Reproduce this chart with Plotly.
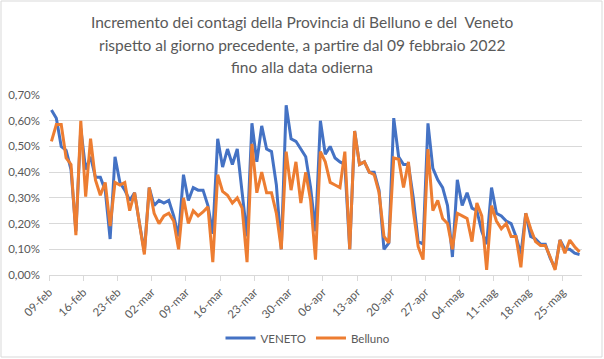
import plotly.graph_objects as go
import pandas as pd

start_date = "2022-02-09"

veneto = [0.642, 0.61, 0.50, 0.485, 0.41, 0.17, 0.57, 0.41, 0.46, 0.38,
          0.38, 0.33, 0.14, 0.46, 0.36, 0.33, 0.29, 0.32, 0.20, 0.09,
          0.34, 0.27, 0.29, 0.28, 0.29, 0.23, 0.15, 0.39, 0.29, 0.34,
          0.33, 0.33, 0.27, 0.16, 0.53, 0.42, 0.49, 0.43, 0.49, 0.33,
          0.15, 0.59, 0.44, 0.58, 0.49, 0.48, 0.35, 0.10, 0.66, 0.53,
          0.52, 0.49, 0.46, 0.34, 0.17, 0.60, 0.47, 0.50, 0.455, 0.44,
          0.43, 0.10, 0.56, 0.43, 0.44, 0.40, 0.40, 0.33, 0.10, 0.125,
          0.61, 0.46, 0.43, 0.43, 0.30, 0.13, 0.12, 0.59, 0.415, 0.37,
          0.34, 0.27, 0.07, 0.37, 0.27, 0.32, 0.26, 0.25, 0.17, 0.12,
          0.34, 0.24, 0.23, 0.21, 0.20, 0.15, 0.08, 0.24, 0.15, 0.14,
          0.12, 0.12, 0.065, 0.026, 0.136, 0.10, 0.10, 0.085, 0.08]

belluno = [0.52, 0.585, 0.585, 0.455, 0.43, 0.155, 0.60, 0.305, 0.53, 0.37,
           0.31, 0.36, 0.19, 0.36, 0.35, 0.36, 0.25, 0.32, 0.20, 0.08,
           0.34, 0.24, 0.20, 0.23, 0.24, 0.21, 0.10, 0.30, 0.20, 0.25,
           0.23, 0.245, 0.265, 0.05, 0.39, 0.325, 0.31, 0.28, 0.30, 0.26,
           0.05, 0.51, 0.32, 0.40, 0.32, 0.32, 0.24, 0.10, 0.48, 0.33,
           0.44, 0.28, 0.40, 0.29, 0.06, 0.48, 0.44, 0.36, 0.35, 0.34,
           0.48, 0.10, 0.56, 0.43, 0.44, 0.40, 0.39, 0.32, 0.15, 0.125,
           0.455, 0.45, 0.34, 0.44, 0.25, 0.11, 0.06, 0.49, 0.25, 0.29,
           0.22, 0.20, 0.10, 0.24, 0.23, 0.22, 0.13, 0.28, 0.23, 0.02,
           0.27, 0.21, 0.18, 0.20, 0.15, 0.15, 0.03, 0.24, 0.18, 0.13,
           0.115, 0.115, 0.07, 0.02, 0.136, 0.085, 0.136, 0.11, 0.09]

tick_labels = ["09-feb", "16-feb", "23-feb", "02-mar", "09-mar", "16-mar",
               "23-mar", "30-mar", "06-apr", "13-apr", "20-apr", "27-apr",
               "04-mag", "11-mag", "18-mag", "25-mag"]

y_ticks = [0.0, 0.1, 0.2, 0.3, 0.4, 0.5, 0.6, 0.7]
y_tick_labels = [f"{v:.2f}%".replace(".", ",") for v in y_ticks]

title_lines = ["Incremento dei contagi della Provincia di Belluno e del&nbsp; Veneto",
               "rispetto al giorno precedente, a partire dal 09 febbraio 2022",
               "fino alla data odierna"]

dates = pd.date_range(start_date, periods=len(veneto), freq="D")
half = pd.Timedelta(hours=12)
tickvals = [dates[0] - half + pd.Timedelta(days=7 * i) for i in range(len(tick_labels))]

GRAY = "#595959"
GRID = "#D9D9D9"
FONT = "Lato"

fig = go.Figure()
fig.add_trace(go.Scatter(x=dates, y=veneto, mode="lines", name="VENETO",
                         line=dict(color="#4472C4", width=3)))
fig.add_trace(go.Scatter(x=dates, y=belluno, mode="lines", name="Belluno",
                         line=dict(color="#ED7D31", width=3)))

W, H = 604, 359
L, R, T, B = 49, 22, 95, 84
pw, ph = W - L - R, H - T - B

def px(x):
    return (x - L) / pw

def py(y):
    return (H - B - y) / ph

annotations = []
for i, line in enumerate(title_lines):
    annotations.append(dict(text=line, x=px(302), y=py(22 + 22.5 * i),
                            xref="paper", yref="paper", showarrow=False,
                            xanchor="center", yanchor="middle",
                            font=dict(family=FONT, size=15.5, color=GRAY)))

fig.update_layout(
    width=W, height=H,
    margin=dict(l=L, r=R, t=T, b=B, autoexpand=False),
    paper_bgcolor="white", plot_bgcolor="white",
    font=dict(family=FONT, size=11.5, color=GRAY),
    showlegend=True,
    legend=dict(orientation="h", x=px(308), xanchor="center", y=py(338), yanchor="middle",
                font=dict(family=FONT, size=11.5, color=GRAY), itemwidth=30,
                bgcolor="rgba(0,0,0,0)"),
    annotations=annotations,
    shapes=[dict(type="rect", xref="paper", yref="paper",
                 x0=px(1), x1=px(602), y0=py(357), y1=py(1),
                 line=dict(color=GRID, width=1), fillcolor="rgba(0,0,0,0)",
                 layer="below")],
)

fig.update_xaxes(
    type="date",
    range=[dates[0] - half, dates[-1] + half],
    tickmode="array", tickvals=tickvals, ticktext=tick_labels,
    tickangle=-45, showgrid=False, zeroline=False,
    showline=True, linecolor=GRID, linewidth=1,
    ticks="outside", ticklen=5, tickcolor=GRID,
    tickfont=dict(family=FONT, size=11.5, color=GRAY),
)
fig.update_yaxes(
    range=[0, 0.7001],
    tickmode="array", tickvals=y_ticks, ticktext=y_tick_labels,
    showgrid=True, gridcolor=GRID, gridwidth=1, zeroline=False,
    showline=False, ticks="", ticklabelstandoff=8,
    tickfont=dict(family=FONT, size=11.5, color=GRAY),
)

fig.write_html("out.html",
               config={"displayModeBar": False},
               post_script="document.body.style.margin='0';document.body.style.overflow='hidden';")
